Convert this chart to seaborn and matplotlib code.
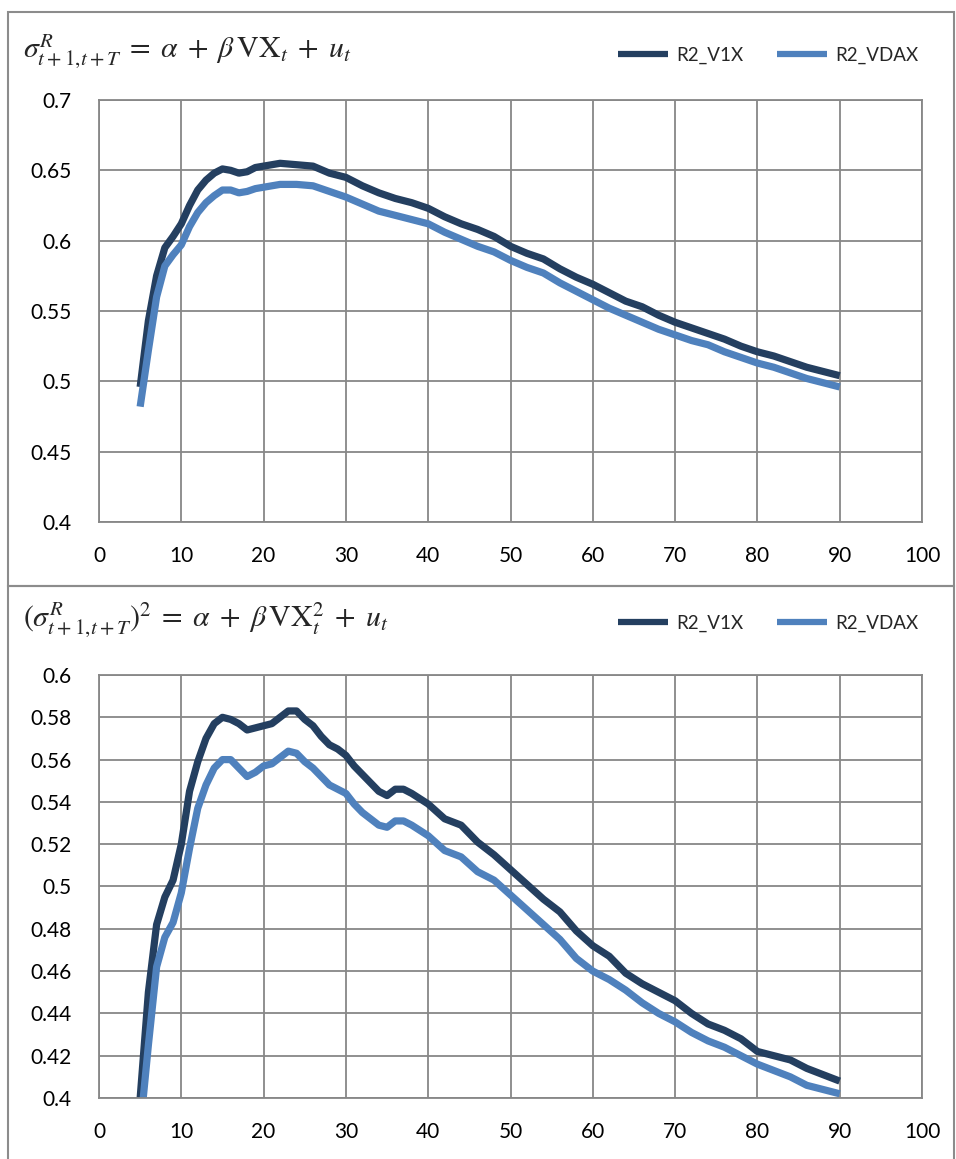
import seaborn as sns
import matplotlib.pyplot as plt
import pandas as pd
from matplotlib.patches import Rectangle
from matplotlib.lines import Line2D
from matplotlib.ticker import FormatStrFormatter

# R2 by horizon (days)
top_horizon = [5, 6, 7, 8, 9, 10, 11, 12, 13, 14, 15, 16, 17, 18, 19, 20, 22, 24, 26, 28,
               30, 32, 34, 36, 38, 40, 42, 44, 46, 48, 50, 52, 54, 56, 58, 60, 62, 64, 66,
               68, 70, 72, 74, 76, 78, 80, 82, 84, 86, 88, 90]
top_v1x = [0.496, 0.543, 0.575, 0.595, 0.603, 0.612, 0.625, 0.636, 0.643, 0.648, 0.651,
           0.650, 0.648, 0.649, 0.652, 0.653, 0.655, 0.654, 0.653, 0.648, 0.645, 0.639,
           0.634, 0.630, 0.627, 0.623, 0.617, 0.612, 0.608, 0.603, 0.596, 0.591, 0.587,
           0.580, 0.574, 0.569, 0.563, 0.557, 0.553, 0.547, 0.542, 0.538, 0.534, 0.530,
           0.525, 0.521, 0.518, 0.514, 0.510, 0.507, 0.504]
top_vdax = [0.482, 0.522, 0.560, 0.582, 0.590, 0.597, 0.610, 0.620, 0.627, 0.632, 0.636,
            0.636, 0.634, 0.635, 0.637, 0.638, 0.640, 0.640, 0.639, 0.635, 0.631, 0.626,
            0.621, 0.618, 0.615, 0.612, 0.606, 0.601, 0.596, 0.592, 0.586, 0.581, 0.577,
            0.570, 0.564, 0.558, 0.552, 0.547, 0.542, 0.537, 0.533, 0.529, 0.526, 0.521,
            0.517, 0.513, 0.510, 0.506, 0.502, 0.499, 0.496]

bot_horizon = [5, 6, 7, 8, 9, 10, 11, 12, 13, 14, 15, 16, 17, 18, 19, 20, 21, 22, 23, 24,
               25, 26, 27, 28, 29, 30, 31, 32, 33, 34, 35, 36, 37, 38, 40, 42, 44, 46, 48,
               50, 52, 54, 56, 58, 60, 62, 64, 66, 68, 70, 72, 74, 76, 78, 80, 82, 84, 86,
               88, 90]
bot_v1x = [0.400, 0.450, 0.482, 0.495, 0.503, 0.520, 0.545, 0.559, 0.570, 0.577, 0.580,
           0.579, 0.577, 0.574, 0.575, 0.576, 0.577, 0.580, 0.583, 0.583, 0.579, 0.576,
           0.571, 0.567, 0.565, 0.562, 0.557, 0.553, 0.549, 0.545, 0.543, 0.546, 0.546,
           0.544, 0.539, 0.532, 0.529, 0.521, 0.515, 0.508, 0.501, 0.494, 0.488, 0.479,
           0.472, 0.467, 0.459, 0.454, 0.450, 0.446, 0.440, 0.435, 0.432, 0.428, 0.422,
           0.420, 0.418, 0.414, 0.411, 0.408]
bot_vdax = [0.385, 0.425, 0.462, 0.476, 0.483, 0.497, 0.518, 0.537, 0.548, 0.556, 0.560,
            0.560, 0.556, 0.552, 0.554, 0.557, 0.558, 0.561, 0.564, 0.563, 0.559, 0.556,
            0.552, 0.548, 0.546, 0.544, 0.539, 0.535, 0.532, 0.529, 0.528, 0.531, 0.531,
            0.529, 0.524, 0.517, 0.514, 0.507, 0.503, 0.496, 0.489, 0.482, 0.475, 0.466,
            0.460, 0.456, 0.451, 0.445, 0.440, 0.436, 0.431, 0.427, 0.424, 0.420, 0.416,
            0.413, 0.410, 0.406, 0.404, 0.402]

series_names = ['R2_V1X', 'R2_VDAX']
colors = {'R2_V1X': '#243F60', 'R2_VDAX': '#4F81BD'}
x_ticks = [0, 10, 20, 30, 40, 50, 60, 70, 80, 90, 100]
top_yticks = [0.4, 0.45, 0.5, 0.55, 0.6, 0.65, 0.7]
bot_yticks = [0.4, 0.42, 0.44, 0.46, 0.48, 0.5, 0.52, 0.54, 0.56, 0.58, 0.6]
top_formula = (r'$\sigma^{R}_{t+1,\!t+T}\;=\;\alpha\;+\;\beta\,\mathrm{VX}_{t}'
               r'\;+\;u_t$')
bot_formula = (r'$(\sigma^{R}_{t+1,\!t+T})^2\;=\;\alpha\;+\;\beta\,\mathrm{VX}^2_t'
               r'\;+\;u_t$')

sns.set_style("white")
plt.rcParams['font.family'] = ['Lato', 'DejaVu Sans']
plt.rcParams['mathtext.fontset'] = 'stix'

grid_color = '#878787'
W, H = 956, 1159

fig = plt.figure(figsize=(W / 100, H / 100), dpi=100)
ax_top = fig.add_axes([99 / W, 1 - 522 / H, 823 / W, 422 / H])
ax_bot = fig.add_axes([99 / W, 1 - 1098 / H, 823 / W, 423 / H])


def long_frame(horizon, v1x, vdax):
    return pd.DataFrame({
        'horizon': list(horizon) * 2,
        'r2': list(v1x) + list(vdax),
        'series': ['R2_V1X'] * len(horizon) + ['R2_VDAX'] * len(horizon),
    })


def draw_panel(ax, df, yticks, formula, y_title):
    sns.lineplot(data=df, x='horizon', y='r2', hue='series', hue_order=series_names,
                 palette=colors, linewidth=5.2, legend=False, ax=ax)
    for line in ax.get_lines():
        line.set_solid_capstyle('butt')
        line.set_solid_joinstyle('round')
    ax.set_xlim(0, 100)
    ax.set_ylim(yticks[0], yticks[-1])
    ax.set_xticks(x_ticks)
    ax.set_yticks(yticks)
    ax.yaxis.set_major_formatter(FormatStrFormatter('%g'))
    ax.set_xlabel('')
    ax.set_ylabel('')
    ax.grid(True, color=grid_color, linewidth=1.3)
    for s in ax.spines.values():
        s.set_color(grid_color)
        s.set_linewidth(1.3)
    ax.tick_params(axis='both', direction='out', length=6.5, width=1.3,
                   color=grid_color, labelsize=15, labelcolor='black')
    ax.tick_params(axis='y', pad=13)
    ax.tick_params(axis='x', pad=11)

    handles = [Line2D([], [], color=colors[n], linewidth=4.5, solid_capstyle='butt')
               for n in series_names]
    ax.legend(handles, series_names, loc='center right',
              bbox_to_anchor=(918 / W, 1 - (y_title + 3) / H),
              bbox_transform=fig.transFigure, ncol=2, frameon=False, fontsize=13.5,
              handlelength=2.7, handletextpad=0.4, columnspacing=1.8,
              borderpad=0, borderaxespad=0)
    fig.text(23 / W, 1 - y_title / H, formula, fontsize=21.5, ha='left', va='center')


draw_panel(ax_top, long_frame(top_horizon, top_v1x, top_vdax), top_yticks, top_formula, 52)
draw_panel(ax_bot, long_frame(bot_horizon, bot_v1x, bot_vdax), bot_yticks, bot_formula, 620)

# panel frames
fig.add_artist(Rectangle((8 / W, 1 - 586 / H), 946 / W, 574 / H, transform=fig.transFigure,
                         fill=False, edgecolor='#8c8c8c', linewidth=1.5))
fig.add_artist(Rectangle((8 / W, -0.01), 946 / W, 573 / H + 0.01, transform=fig.transFigure,
                         fill=False, edgecolor='#8c8c8c', linewidth=1.5))

fig.savefig('out.png', dpi=100)
